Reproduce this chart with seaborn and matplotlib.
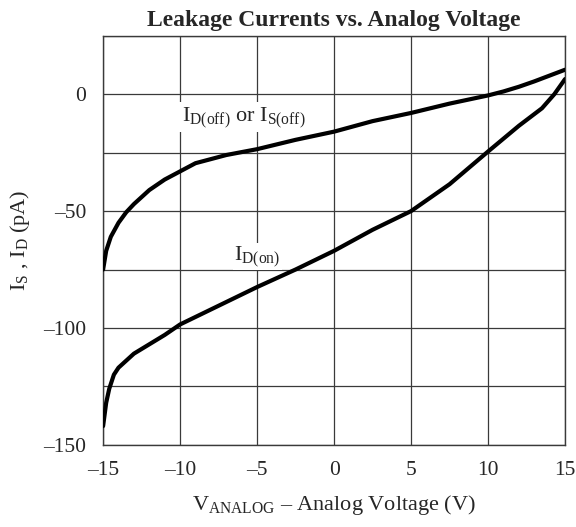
import numpy as np
import pandas as pd
import seaborn as sns
import matplotlib.pyplot as plt

# leakage current curves
v_off = [-15, -14.8, -14.5, -14, -13.5, -13, -12, -11, -10, -9, -7, -5, -2.5, 0, 2.5, 5, 7.5, 10, 11, 12, 13, 14, 15]
i_off = [-75, -67, -61, -55, -50.5, -47, -41, -36.5, -33, -29.5, -26, -23.5, -19.5, -16, -11.5, -8, -4, -0.5, 1.2, 3.2, 5.5, 8, 10.5]

v_on = [-15, -14.8, -14.6, -14.3, -14, -13, -12, -11, -10, -7.5, -5, -2.5, 0, 2.5, 5, 7.5, 10, 12, 13.5, 14.3, 15]
i_on = [-142, -132, -126, -120, -117, -111, -107, -103, -98.5, -90.5, -82.5, -75, -67, -58, -50, -38.5, -24.5, -13.5, -6, 0, 6.5]

xticks = [-15, -10, -5, 0, 5, 10, 15]
xtick_labels = ['–15', '–10', '–5', '0', '5', '10', '15']
ygrid = [-150, -125, -100, -75, -50, -25, 0, 25]
ytick_labels = ['–150', '', '–100', '', '–50', '', '0', '']

sns.set_style('white')
plt.rcParams['font.family'] = ['Liberation Serif', 'DejaVu Serif']
plt.rcParams['mathtext.fontset'] = 'custom'
plt.rcParams['mathtext.rm'] = 'Liberation Serif'

df_off = pd.DataFrame({'v': v_off, 'i': i_off})
df_on = pd.DataFrame({'v': v_on, 'i': i_on})

fig = plt.figure(figsize=(5.76, 5.27), dpi=100)
ax = fig.add_axes([0.179, 0.156, 0.802, 0.776])

sns.lineplot(data=df_off, x='v', y='i', color='black', linewidth=3.0, ax=ax, zorder=4)
sns.lineplot(data=df_on, x='v', y='i', color='black', linewidth=3.0, ax=ax, zorder=4)

ax.set_xlim(-15, 15)
ax.set_ylim(-150, 25)
ax.set_xticks(xticks)
ax.set_xticklabels(xtick_labels, fontsize=15.5)
ax.set_yticks(ygrid)
ax.set_yticklabels(ytick_labels, fontsize=15.5)
ax.grid(True, color='#3a3a3a', linewidth=0.9)
ax.set_axisbelow(True)
ax.tick_params(length=0, pad=12)
for s in ax.spines.values():
    s.set_color('#3a3a3a')
    s.set_linewidth(1.0)

ax.text(-9.87, -11.5, r'$\mathregular{I_{D(off)}}$ or $\mathregular{I_{S(off)}}$', fontsize=16,
        va='baseline', ha='left', zorder=3,
        bbox=dict(facecolor='white', edgecolor='none', pad=2))
ax.text(-6.49, -71.0, r'$\mathregular{I_{D(on)}}$', fontsize=16, va='baseline', ha='left', zorder=3,
        bbox=dict(facecolor='white', edgecolor='none', pad=1))

ax.set_title('Leakage Currents vs. Analog Voltage', fontsize=17, fontweight='bold', pad=7)
ax.set_xlabel(r'$\mathregular{V_{ANALOG}}$ – Analog Voltage (V)', fontsize=16, labelpad=9)
ax.set_ylabel(r'$\mathregular{I_S}$ , $\mathregular{I_D}$ (pA)', fontsize=16, labelpad=8)

plt.savefig('out.png', dpi=100)
